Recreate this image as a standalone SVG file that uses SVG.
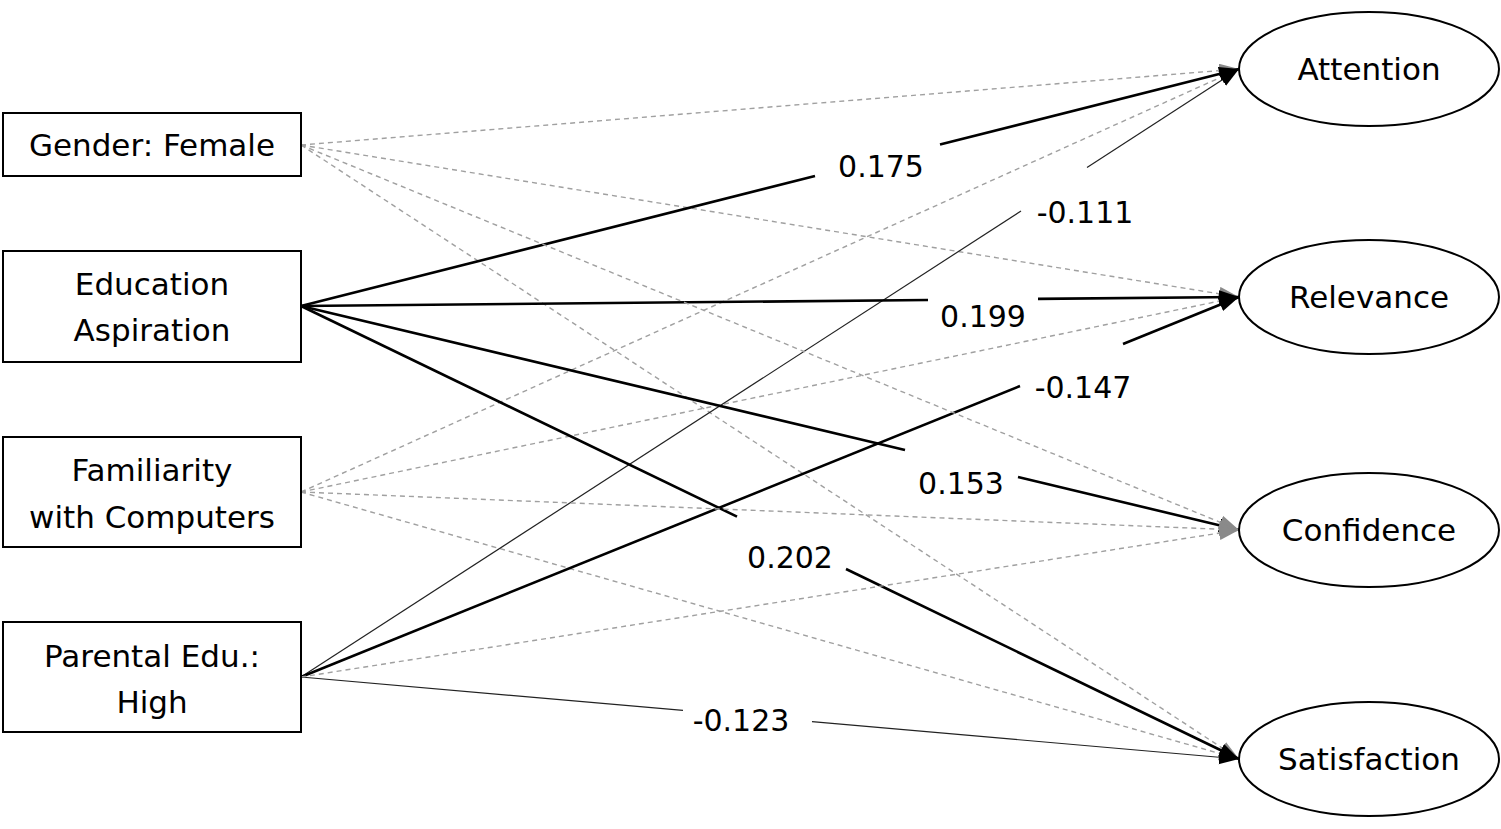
<svg xmlns="http://www.w3.org/2000/svg" width="1501" height="829" viewBox="0 0 1501 829">
<defs>
<style>
.box{fill:#fff;stroke:#000;stroke-width:2}
.ell{fill:#fff;stroke:#000;stroke-width:2}
.t{font-family:"DejaVu Sans","Open Sans",sans-serif;font-size:31px;fill:#000;text-anchor:middle}
.n{font-family:"DejaVu Sans","Open Sans",sans-serif;font-size:30px;fill:#000;text-anchor:middle}
.thick{stroke:#000;stroke-width:2.6;fill:none}
.thin{stroke:#222;stroke-width:1.2;fill:none}
.dash{stroke:#a0a0a0;stroke-width:1.4;stroke-dasharray:5 4;fill:none}
</style>
<marker id="ab" markerUnits="userSpaceOnUse" markerWidth="22" markerHeight="16" refX="20" refY="7" orient="auto"><path d="M0,0 L20,7 L0,14 z" fill="#000"/></marker>
<marker id="ag" markerUnits="userSpaceOnUse" markerWidth="22" markerHeight="16" refX="20" refY="7" orient="auto"><path d="M0,0 L20,7 L0,14 z" fill="#8a8a8a"/></marker>
</defs>
<rect width="1501" height="829" fill="#fff"/>
<g id="connectors">
<line class="dash" x1="301" y1="145" x2="1239" y2="69" marker-end="url(#ag)"/>
<line class="dash" x1="301" y1="145" x2="1239" y2="297" marker-end="url(#ag)"/>
<line class="dash" x1="301" y1="145" x2="1239" y2="759" marker-end="url(#ag)"/>
<line class="dash" x1="301" y1="492" x2="1239" y2="69" marker-end="url(#ag)"/>
<line class="dash" x1="301" y1="492" x2="1239" y2="297" marker-end="url(#ag)"/>
<line class="dash" x1="301" y1="492" x2="1239" y2="759" marker-end="url(#ag)"/>
<line class="thick" x1="301" y1="306" x2="815" y2="176"/>
<line class="thick" x1="940" y1="144.5" x2="1239" y2="69" marker-end="url(#ab)"/>
<line class="thin" x1="301" y1="677" x2="1021" y2="211"/>
<line class="thin" x1="1087" y1="167.6" x2="1239" y2="69" marker-end="url(#ab)"/>
<line class="thick" x1="301" y1="306" x2="928" y2="300"/>
<line class="thick" x1="1038" y1="298.9" x2="1239" y2="297" marker-end="url(#ab)"/>
<line class="thick" x1="301" y1="677" x2="1020" y2="386"/>
<line class="thick" x1="1123" y1="344" x2="1239" y2="297" marker-end="url(#ab)"/>
<line class="thick" x1="301" y1="306" x2="905" y2="450"/>
<line class="thick" x1="1018" y1="477" x2="1239" y2="530" marker-end="url(#ab)"/>
<line class="thick" x1="301" y1="306" x2="737" y2="516.6"/>
<line class="thick" x1="846" y1="569" x2="1239" y2="759" marker-end="url(#ab)"/>
<line class="thin" x1="301" y1="677" x2="683" y2="710.4"/>
<line class="thin" x1="812" y1="721.7" x2="1239" y2="759" marker-end="url(#ab)"/>
<line class="dash" x1="301" y1="145" x2="1239" y2="530" marker-end="url(#ag)"/>
<line class="dash" x1="301" y1="492" x2="1239" y2="530" marker-end="url(#ag)"/>
<line class="dash" x1="301" y1="677" x2="1239" y2="530" marker-end="url(#ag)"/>
<text class="n" x="881" y="177">0.175</text>
<text class="n" x="1085" y="223">-0.111</text>
<text class="n" x="983" y="327">0.199</text>
<text class="n" x="1083" y="398">-0.147</text>
<text class="n" x="961" y="494">0.153</text>
<text class="n" x="790" y="568">0.202</text>
<text class="n" x="741" y="731">-0.123</text>
</g>
<g id="gender"><rect class="box" x="3" y="113" width="298" height="63"/><text class="t" x="152" y="156">Gender: Female</text></g>
<g id="education"><rect class="box" x="3" y="251" width="298" height="111"/><text class="t" x="152" y="295">Education</text><text class="t" x="152" y="341">Aspiration</text></g>
<g id="familiarity"><rect class="box" x="3" y="437" width="298" height="110"/><text class="t" x="152" y="481">Familiarity</text><text class="t" x="152" y="528">with Computers</text></g>
<g id="parental"><rect class="box" x="3" y="622" width="298" height="110"/><text class="t" x="152" y="667">Parental Edu.:</text><text class="t" x="152" y="713">High</text></g>
<g id="attention"><ellipse class="ell" cx="1369" cy="69" rx="130" ry="57"/><text class="t" x="1369" y="80">Attention</text></g>
<g id="relevance"><ellipse class="ell" cx="1369" cy="297" rx="130" ry="57"/><text class="t" x="1369" y="308">Relevance</text></g>
<g id="confidence"><ellipse class="ell" cx="1369" cy="530" rx="130" ry="57"/><text class="t" x="1369" y="541">Confidence</text></g>
<g id="satisfaction"><ellipse class="ell" cx="1369" cy="759" rx="130" ry="57"/><text class="t" x="1369" y="770">Satisfaction</text></g>
</svg>
